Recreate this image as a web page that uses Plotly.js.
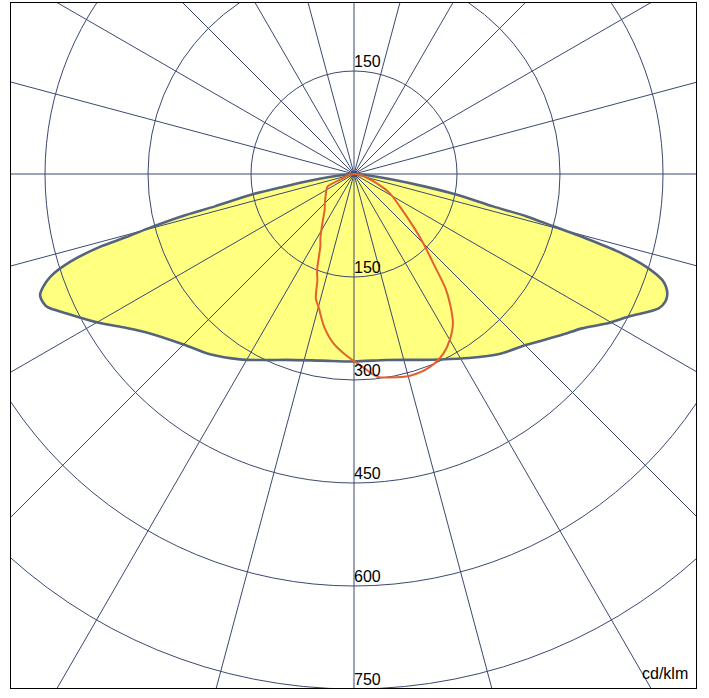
<!DOCTYPE html>
<html>
<head>
<meta charset="utf-8">
<script src="https://cdn.plot.ly/plotly-3.0.1.min.js"></script>
<style>
  html, body { margin: 0; padding: 0; background: #fff; }
  #frame {
    position: absolute; left: 10px; top: 2px;
    width: 687px; height: 687px;
    box-sizing: border-box;
    border: 1.5px solid #000;
    overflow: hidden;
    background: #fff;
  }
  #plot { position: absolute; }
</style>
</head>
<body>
<div id="frame"><div id="plot"></div></div>
<script>
// gamma angle (0 = straight down, + to the right) and intensity in cd/klm
var planeATheta = [-90, -87, -84, -81.7, -79.7, -78.6, -76.9, -76.2, -75.3, -74.5, -74, -72.8, -71.3, -70, -68.9,
  -67.6, -66.6, -64.1, -59.6, -55.9, -52, -45, -38.6, -31.6, -25, -20, -10, 0, 10, 20, 25, 32, 38.9, 45.1,
  52.3, 55.9, 59.7, 62.6, 66.2, 67.7, 68.9, 70, 71, 72.4, 73.6, 74.5, 75.3, 76.2, 76.9, 78.6, 79.9, 81.7, 84, 87, 90];
var planeAR = [0, 6, 22, 58, 107, 153, 208, 259, 305, 345, 385, 433, 467, 482, 490,
  490, 487, 465, 429, 400, 377, 351, 336, 317, 299, 288, 276, 273, 275, 288, 298, 316, 337, 353,
  383, 401, 430, 451, 485, 490, 489, 484, 475, 446, 402, 350, 300, 259, 208, 153, 107, 58, 22, 6, 0];

var planeBTheta = [-90, -75, -68, -65, -62, -55, -45, -39, -34, -28, -25, -21, -19, -17, -15, -11, -7, -2,
  3, 6.5, 10, 15.5, 21.5, 26.5, 30, 33.5, 36.4, 38.6, 41.6, 45, 48.4, 54.6, 61.8, 67.7, 80, 90];
var planeBR = [0, 10, 18, 42, 45, 50, 60, 68, 81, 104, 116, 150, 164, 190, 200, 227, 248, 266,
  283, 297, 301, 305, 302, 292, 279, 261, 236, 214, 174, 143, 116, 82, 59, 36, 9, 0];

var ringValues = [150, 300, 450, 600, 750];
var labelTheta = [180, 0, 0, 0, 0, 0];
var labelR = [150, 150, 300, 450, 600, 750];
var labelText = ['150', '150', '300', '450', '600', '750'];
var unitText = 'cd/klm';

// geometry: 150 cd/klm = 103 px, centre of the diagram at page (354,174)
var R = 650;
var S = 2 * R;
var RMAX = R * 150 / 103;
var plotLeft = 354 - R, plotTop = 174 - R;   // page coords of plot div
var el = document.getElementById('plot');
el.style.left = (plotLeft - 11.5) + 'px';
el.style.top = (plotTop - 3.5) + 'px';
el.style.width = S + 'px';
el.style.height = S + 'px';

var gridColor = '#3b4970';
var font = {family: 'Liberation Sans, Arial, sans-serif', size: 16, color: '#000'};

var fillTrace = {
  type: 'scatterpolar', subplot: 'polar',
  r: planeAR, theta: planeATheta,
  mode: 'lines', fill: 'toself', fillcolor: '#ffff80',
  line: {width: 0, color: 'rgba(0,0,0,0)', shape: 'spline', smoothing: 0.8},
  hoverinfo: 'skip'
};
var outlineTrace = {
  type: 'scatterpolar', subplot: 'polar2',
  r: planeAR, theta: planeATheta,
  mode: 'lines', line: {color: '#55647d', width: 2.6, shape: 'spline', smoothing: 0.8},
  hoverinfo: 'skip'
};
var redTrace = {
  type: 'scatterpolar', subplot: 'polar2',
  r: planeBR, theta: planeBTheta,
  mode: 'lines', line: {color: '#e4612f', width: 2, shape: 'spline', smoothing: 0.8},
  hoverinfo: 'skip'
};
var labelTrace = {
  type: 'scatterpolar', subplot: 'polar2',
  r: labelR, theta: labelTheta, text: labelText,
  mode: 'text', textposition: 'top right', textfont: font,
  hoverinfo: 'skip', cliponaxis: false
};

function polarAxes(withGrid, bg) {
  return {
    domain: {x: [0, 1], y: [0, 1]},
    bgcolor: bg,
    angularaxis: {
      rotation: -90, direction: 'counterclockwise',
      tickmode: 'linear', tick0: 0, dtick: 15,
      showticklabels: false, ticks: '', showline: false,
      showgrid: withGrid, gridcolor: gridColor, gridwidth: 1
    },
    radialaxis: {
      range: [0, RMAX], tickvals: ringValues,
      showticklabels: false, ticks: '', showline: false,
      showgrid: withGrid, gridcolor: gridColor, gridwidth: 1
    }
  };
}

var layout = {
  width: S, height: S,
  margin: {l: 0, r: 0, t: 0, b: 0, pad: 0},
  paper_bgcolor: 'rgba(0,0,0,0)',
  showlegend: false,
  polar: polarAxes(false, '#fff'),
  polar2: polarAxes(true, 'rgba(0,0,0,0)'),
  annotations: [{
    text: unitText, showarrow: false, font: font,
    xref: 'paper', yref: 'paper',
    x: (690 - plotLeft) / S, y: 1 - (673 - plotTop) / S,
    xanchor: 'right', yanchor: 'middle'
  }]
};

Plotly.newPlot('plot', [fillTrace, outlineTrace, redTrace, labelTrace], layout,
  {staticPlot: true, displayModeBar: false});
</script>
</body>
</html>
